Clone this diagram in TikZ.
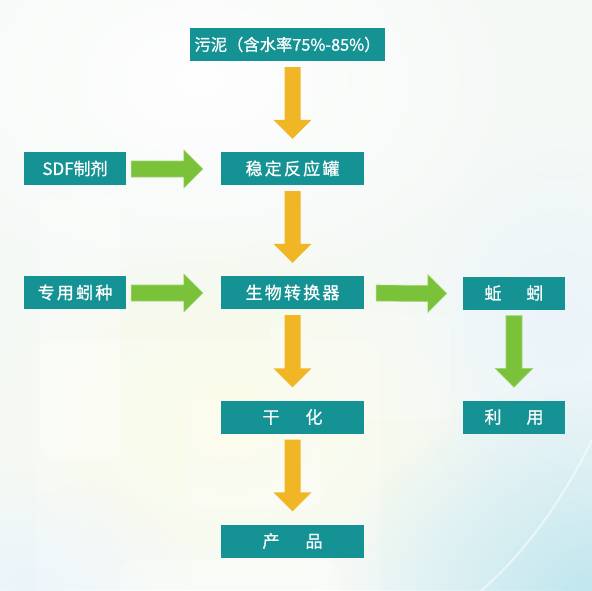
\documentclass[tikz,border=0pt]{standalone}
\usepackage{fontspec}
\newfontfamily\cjk{Noto Sans CJK SC}[FakeBold=0.8]
\usetikzlibrary{calc,fadings}
\tikzfading[name=softout, inner color=transparent!0, outer color=transparent!100]
\definecolor{boxteal}{HTML}{149294}
\definecolor{arryellow}{HTML}{F0B626}
\definecolor{arrgreen}{HTML}{79C23A}
\definecolor{arrgreenedge}{HTML}{A3D46E}
\definecolor{bgbase}{HTML}{F5F9F6}
\definecolor{bgyellow}{HTML}{FAFBE2}
\definecolor{bgcyan}{HTML}{BDE5EE}
\definecolor{bgblue}{HTML}{EAF4FA}
\newcommand\lsp{\kern2.2pt}
% vertical block arrow between two named nodes
\newcommand\vblockarrow[3]{%
  \path (#1.south -| #2.north) ++(0,6) coordinate (va);
  \path (#2.north) ++(0,-13) coordinate (vt);
  \path (vt) ++(0,-19) coordinate (vh);
  \fill[#3] ($(va)+(-8,0)$) -- ($(va)+(8,0)$) -- ($(vh)+(8,0)$) -- ($(vh)+(19,0)$)
    -- (vt) -- ($(vh)+(-19,0)$) -- ($(vh)+(-8,0)$) -- cycle;}
% horizontal block arrow between two named nodes
\newcommand\hblockarrow[5]{%
  \path (#1.east) ++(#3,0.5) coordinate (ha);
  \path (#2.west) ++(-#4,0.5) coordinate (ht);
  \path (ht) ++(-19,0) coordinate (hh);
  \fill[#5] ($(ha)+(0,-8)$) -- ($(hh)+(0,-8)$) -- ($(hh)+(0,-19)$) -- (ht)
    -- ($(hh)+(0,19)$) -- ($(hh)+(0,8)$) -- ($(ha)+(0,8)$) -- cycle;}
\begin{document}
\begin{tikzpicture}[x=1pt,y=-1pt,
  box/.style={fill=boxteal, text=white, inner sep=0pt, minimum height=33pt,
    font=\cjk\fontsize{17}{17}\selectfont},
  wide/.style={box, minimum width=143pt},
  narrow/.style={box, minimum width=102pt},
  yarrow/.style={arryellow},
  garrow/.style={arrgreen, draw=arrgreenedge, line width=0.6pt}]
\useasboundingbox (0,0) rectangle (592,590);
% background
\fill[bgbase] (0,0) rectangle (592,590);
\fill[white, path fading=softout, opacity=0.9] (200,80) ellipse (330 and 220);
\fill[bgyellow, path fading=softout] (230,420) ellipse (260 and 200);
\fill[bgblue, path fading=softout] (560,330) ellipse (160 and 200);
\fill[bgblue, path fading=softout] (30,590) ellipse (160 and 120);
\fill[bgcyan, path fading=softout] (600,600) ellipse (270 and 220);
\fill[white, opacity=0.28, rounded corners=14] (40,195) rectangle (120,460);
\fill[white, opacity=0.25, rounded corners=14] (186,400) rectangle (322,508);
\fill[white, opacity=0.25, rounded corners=14] (120,560) rectangle (340,600);
\fill[white, opacity=0.22, rounded corners=14] (270,315) rectangle (450,420);
\fill[white, opacity=0.2, rounded corners=14] (35,340) rectangle (380,600);
\draw[white, opacity=0.55, line width=2pt] (592,440) .. controls (560,505) and (520,560) .. (470,600);
% nodes
\node[box, minimum width=195pt, font=\cjk\fontsize{16.3}{17}\selectfont] (sludge) at (287.5,44.5) {污泥（含水率75\%-85\%）};
\node[wide] (tank) at (292.5,168.5) {稳\lsp 定\lsp 反\lsp 应\lsp 罐};
\node[narrow] (sdf) at (75,168.5) {SDF制剂};
\node[wide] (bio) at (292.5,292.5) {生\lsp 物\lsp 转\lsp 换\lsp 器};
\node[narrow] (seed) at (75,292.5) {专\lsp 用\lsp 蚓\lsp 种};
\node[narrow] (worm) at (514,293) {蚯\hspace{25pt}蚓};
\node[wide] (dry) at (292.5,417) {干\hspace{26pt}化};
\node[narrow] (use) at (514,417) {利\hspace{25pt}用};
\node[wide] (prod) at (292.5,541) {产\hspace{26pt}品};
% connectors
\vblockarrow{sludge}{tank}{yarrow}
\vblockarrow{tank}{bio}{yarrow}
\vblockarrow{bio}{dry}{yarrow}
\vblockarrow{dry}{prod}{yarrow}
\vblockarrow{worm}{use}{garrow}
\hblockarrow{sdf}{tank}{5}{18}{garrow}
\hblockarrow{seed}{bio}{5}{18}{garrow}
\hblockarrow{bio}{worm}{12}{16}{garrow}
\end{tikzpicture}
\end{document}
